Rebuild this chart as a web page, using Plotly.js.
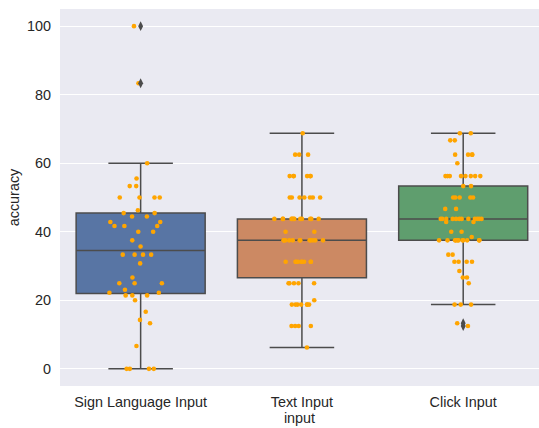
<!DOCTYPE html>
<html>
<head>
<meta charset="utf-8">
<script src="https://cdn.plot.ly/plotly-3.0.1.min.js"></script>
<style>html,body{margin:0;padding:0;background:#fff;}#chart{width:539px;height:428px;}</style>
</head>
<body>
<div id="chart"></div>
<script>
const categories = ["Sign Language Input", "Text Input", "Click Input"];

const signLanguage = [100, 83.33, 60, 55.56, 53.33, 53.33, 50, 50, 50, 50, 46.3, 45.45, 45.45,
  44.44, 44.44, 42.86, 42.86, 41.67, 41.67, 41.67, 40, 40, 37.5, 35.71, 33.33, 33.33, 33.33, 33.33,
  30.77, 26.67, 25, 25, 25, 23.08, 22.22, 22.22, 21.43, 21.43, 21.43, 20, 16.67, 14.29, 13.33,
  6.67, 0, 0, 0, 0];

const textInput = [68.75, 62.5, 62.5, 62.5, 56.25, 56.25, 56.25, 56.25, 56.25, 56.25,
  50, 50, 50, 50, 50, 50, 50,
  43.75, 43.75, 43.75, 43.75, 43.75, 43.75, 43.75, 43.75, 43.75, 43.75, 43.75, 43.75,
  40, 40,
  37.5, 37.5, 37.5, 37.5, 37.5, 37.5, 37.5, 37.5, 37.5, 37.5, 37.5, 37.5,
  31.25, 31.25, 31.25, 31.25, 31.25, 31.25, 31.25, 31.25, 31.25,
  25, 25, 25, 25, 25, 20,
  18.75, 18.75, 18.75, 18.75, 18.75, 18.75, 18.75,
  12.5, 12.5, 12.5, 12.5, 6.25];

const clickInput = [68.75, 68.75, 66.67, 66.67, 62.5, 62.5, 62.5, 62.5, 60,
  56.25, 56.25, 56.25, 56.25, 56.25, 56.25, 56.25, 56.25, 53.33, 53.33,
  50, 50, 50, 50, 50, 46.67, 46.67,
  43.75, 43.75, 43.75, 43.75, 43.75, 43.75, 43.75, 43.75, 43.75, 43.75, 43.75, 43.75,
  42.86, 42.86, 40, 40, 38.46,
  37.5, 37.5, 37.5, 37.5, 37.5, 37.5, 37.5, 37.5, 37.5, 37.5, 37.5,
  33.33, 33.33, 31.25, 31.25, 31.25, 31.25, 28.57, 26.67, 26.67, 25,
  18.75, 18.75, 18.75, 13.33, 12.5];

const seriesValues = [signLanguage, textInput, clickInput];
const boxColors = ["#5875a4", "#cc8963", "#5f9e6e"];
const lineGray = "#4c4c4c";
const pointColor = "#FFA500";
const fontFam = "Liberation Sans, Arial, sans-serif";
const fs = 14.4;

function quant(sorted, p) {
  const pos = (sorted.length - 1) * p;
  const lo = Math.floor(pos), hi = Math.ceil(pos);
  return sorted[lo] + (sorted[hi] - sorted[lo]) * (pos - lo);
}

const traces = [];
const flierX = [], flierY = [];
seriesValues.forEach((vals, i) => {
  const s = vals.slice().sort((a, b) => a - b);
  const q1 = quant(s, 0.25), med = quant(s, 0.5), q3 = quant(s, 0.75);
  const iqr = q3 - q1;
  const lo = q1 - 1.5 * iqr, hi = q3 + 1.5 * iqr;
  const inside = s.filter(v => v >= lo && v <= hi);
  const lf = Math.min(...inside), uf = Math.max(...inside);
  s.filter(v => v < lo || v > hi).forEach(v => { flierX.push(categories[i]); flierY.push(v); });
  traces.push({
    type: "box", x: [categories[i]], q1: [q1], median: [med], q3: [q3],
    lowerfence: [lf], upperfence: [uf], width: 0.8, whiskerwidth: 0.5,
    fillcolor: boxColors[i], line: {color: lineGray, width: 1.5},
    boxpoints: false, showlegend: false, hoverinfo: "skip"
  });
});

traces.push({
  type: "scatter", mode: "markers", x: flierX, y: flierY,
  marker: {symbol: "diamond-tall", color: lineGray, size: 7},
  showlegend: false, hoverinfo: "skip"
});

seriesValues.forEach((vals, i) => {
  traces.push({
    type: "box", y: vals, x: vals.map(() => categories[i]),
    boxpoints: "all", jitter: 0.55, pointpos: 0, width: 0.8,
    fillcolor: "rgba(0,0,0,0)", line: {color: "rgba(0,0,0,0)", width: 0},
    marker: {color: pointColor, size: 4.6, line: {width: 0}},
    showlegend: false, hoverinfo: "skip"
  });
});

const layout = {
  width: 539, height: 428,
  margin: {l: 60, r: 0, t: 9, b: 42, pad: 0},
  paper_bgcolor: "#ffffff", plot_bgcolor: "#EAEAF2",
  boxmode: "overlay", showlegend: false,
  font: {family: fontFam, size: fs, color: "#262626"},
  xaxis: {
    type: "category", categoryorder: "array", categoryarray: categories,
    range: [-0.5, 2.47], showgrid: false, zeroline: false, showline: false,
    ticks: "", ticklabelstandoff: 6, automargin: false,
    tickfont: {family: fontFam, size: fs, color: "#262626"},
    title: {text: "input", font: {family: fontFam, size: fs, color: "#262626"}, standoff: 3}
  },
  yaxis: {
    range: [-5, 105], dtick: 20, tick0: 0, showgrid: true, gridcolor: "#ffffff", gridwidth: 1.2,
    zeroline: false, showline: false, ticks: "", ticklabelstandoff: 8, automargin: false,
    tickfont: {family: fontFam, size: fs, color: "#262626"},
    title: {text: "accuracy", font: {family: fontFam, size: fs, color: "#262626"}, standoff: 3}
  }
};

Plotly.newPlot("chart", traces, layout, {staticPlot: true, displayModeBar: false});
</script>
</body>
</html>
